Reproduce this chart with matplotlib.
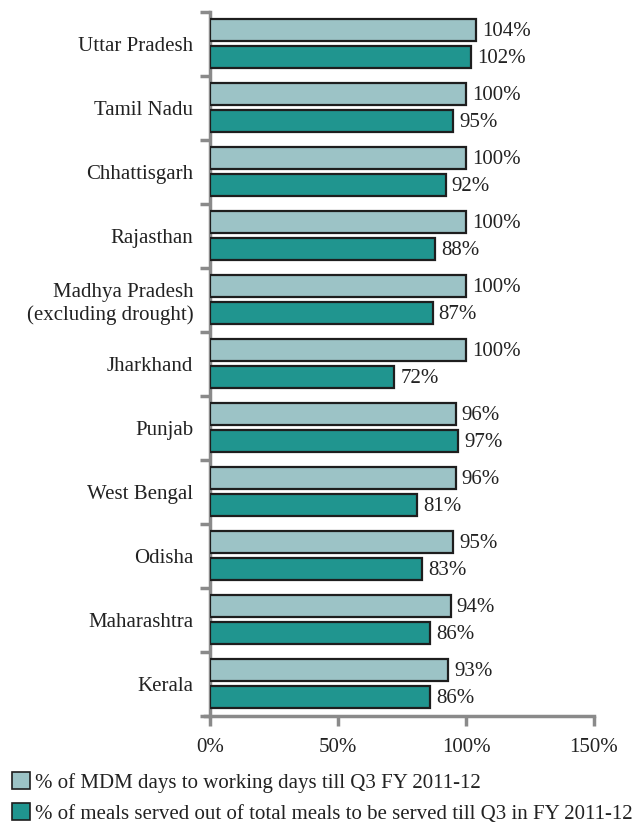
import matplotlib
matplotlib.use("Agg")
import matplotlib.pyplot as plt
from matplotlib.patches import Patch
import numpy as np

states = ["Uttar Pradesh", "Tamil Nadu", "Chhattisgarh", "Rajasthan",
          "Madhya Pradesh\n(excluding drought)", "Jharkhand", "Punjab",
          "West Bengal", "Odisha", "Maharashtra", "Kerala"]
mdm_days = [104, 100, 100, 100, 100, 100, 96, 96, 95, 94, 93]
meals_served = [102, 95, 92, 88, 87, 72, 97, 81, 83, 86, 86]
series_names = ["% of MDM days to working days till Q3 FY 2011-12",
                "% of meals served out of total meals to be served till Q3 in FY 2011-12"]
xticks = [0, 50, 100, 150]
xticklabels = ["0%", "50%", "100%", "150%"]

light = "#9CC3C6"
dark = "#20958F"
edge = "#1e1e1e"
grey = "#8a8a8a"
font = "Liberation Serif"
plt.rcParams["font.family"] = [font, "DejaVu Serif"]
fs = 15

fig = plt.figure(figsize=(6.32, 8.25), dpi=100)
ax = fig.add_axes([210/632, 1 - 716/825, (594-210)/632, (716-12)/825])

n = len(states)
y = np.arange(n)
h = 0.34
ax.barh(y - 0.22, mdm_days, height=h, color=light, edgecolor=edge, linewidth=1.6, zorder=3)
ax.barh(y + 0.20, meals_served, height=h, color=dark, edgecolor=edge, linewidth=1.6, zorder=3)

for i in range(n):
    ax.text(mdm_days[i] + 2.3, y[i] - 0.20, f"{mdm_days[i]}%", va="center", ha="left", fontsize=fs, color="#222")
    ax.text(meals_served[i] + 2.3, y[i] + 0.22, f"{meals_served[i]}%", va="center", ha="left", fontsize=fs, color="#222")

ax.set_ylim(n - 0.5, -0.5)
ax.set_yticks(np.arange(-0.5, n, 1))
ax.set_yticklabels([])
ax.set_yticks(y, minor=True)
ax.set_yticklabels(states, minor=True, fontsize=fs, color="#222")
ax.tick_params(axis="y", which="minor", length=0, pad=12)
ax.tick_params(axis="y", which="major", length=7, width=2.5, color=grey, direction="out")
ax.set_xticks(xticks)
ax.set_xticklabels(xticklabels, fontsize=fs, color="#222")
ax.tick_params(axis="x", length=7, width=2.5, color=grey, direction="out", pad=9)
for s in ["top", "right"]:
    ax.spines[s].set_visible(False)
for s in ["left", "bottom"]:
    ax.spines[s].set_color(grey)
    ax.spines[s].set_linewidth(2.5)
ax.set_xlim(-0.01, 150)
ax.spines["bottom"].set_bounds(-2, 150)

handles = [Patch(facecolor=light, edgecolor=edge, linewidth=1.2),
           Patch(facecolor=dark, edgecolor=edge, linewidth=1.2)]
fig.legend(handles, series_names, loc="lower left", bbox_to_anchor=(0.003, -0.011),
           frameon=False, fontsize=fs, handlelength=0.85, handleheight=0.85,
           handletextpad=0.25, labelspacing=0.5, borderaxespad=0.2, borderpad=0.3,
           labelcolor="#222")

fig.savefig("out.png", dpi=100)
